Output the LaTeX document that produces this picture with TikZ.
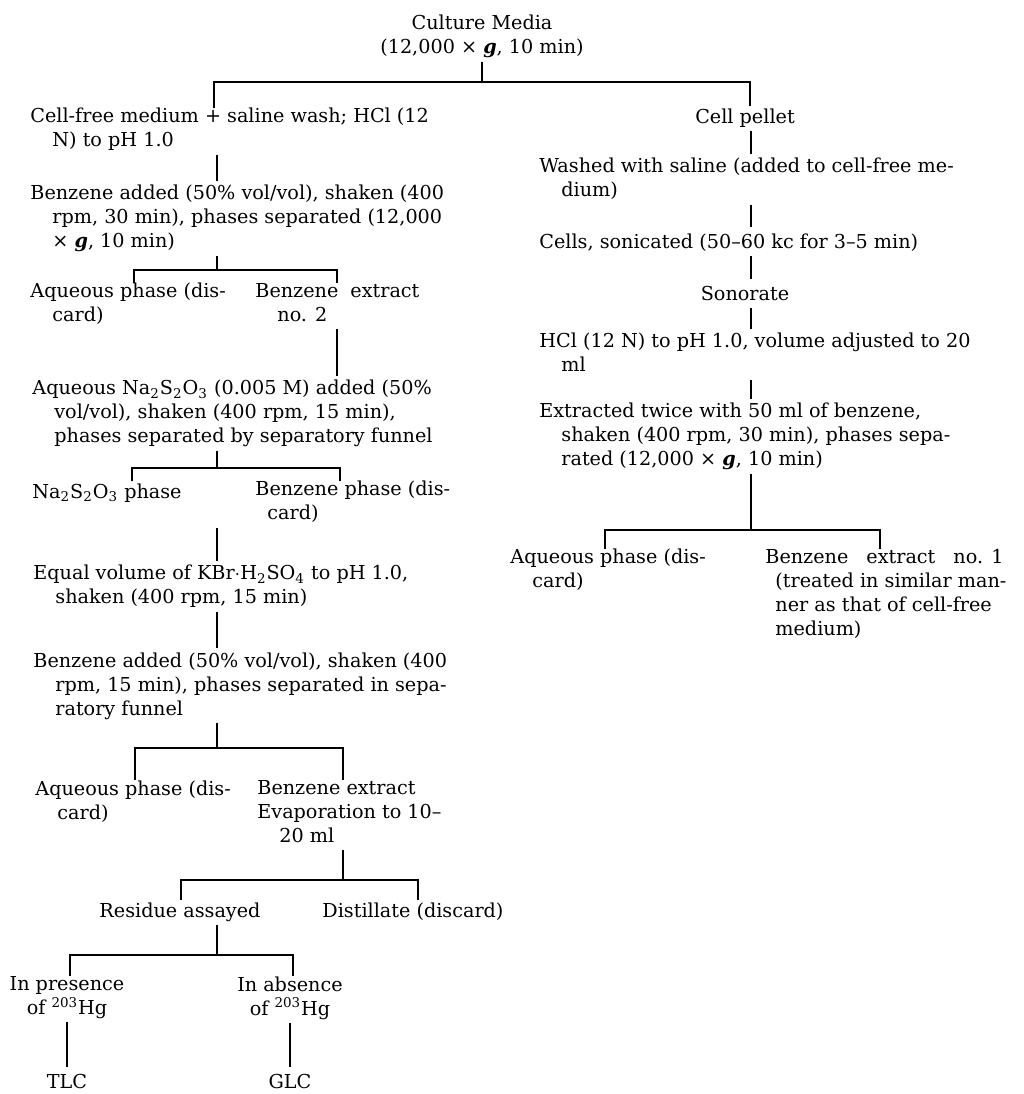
\documentclass[tikz,border=0pt]{standalone}
\usepackage{fontspec}
\setmainfont{DejaVu Serif}
\usetikzlibrary{positioning}
\newcommand{\ind}{\hspace*{11pt}}
\newcommand{\grav}{\textbf{\textit{g}}}
\tikzset{
  stepbox/.style = {anchor=north west, align=left, inner sep=0pt,
                    font=\fontsize{9.6}{12}\selectfont,
                    execute at begin node=\strut},
  midbox/.style  = {stepbox, anchor=north, align=center},
  tree/.style    = {line width=0.6pt},
  link/.style    = {tree, shorten >=2pt},
}
\begin{document}
\begin{tikzpicture}[x=0.5pt, y=-0.5pt]
\useasboundingbox (0,0) rectangle (1024,1094);

%% --- top -----------------------------------------------------------------
\node[midbox] (media) at (482,15) {Culture Media\\(12,000 × \grav, 10 min)};

%% --- column positions and fork bars ---------------------------------------
\coordinate (colL) at (217,0);
\coordinate (colR) at (751,0);
\coordinate (f0l) at (214,82);  \coordinate (f0r) at (750,82);
\coordinate (f1l) at (134,270); \coordinate (f1r) at (337,270);
\coordinate (f2l) at (132,468); \coordinate (f2r) at (340,468);
\coordinate (f3l) at (135,748); \coordinate (f3r) at (343,748);
\coordinate (f4l) at (181,880); \coordinate (f4r) at (418,880);
\coordinate (f5l) at (70,955);  \coordinate (f5r) at (293,955);
\coordinate (f6l) at (605,530); \coordinate (f6r) at (880,530);

%% =====================================================================
%% Cell-free medium branch
%% =====================================================================
\node[stepbox] (cellfree) at (30,108)
  {Cell-free medium + saline wash; HCl (12\\\ind N) to pH 1.0};
\node[stepbox] (benzA) at (30,185)
  {Benzene added (50\% vol/vol), shaken (400\\\ind rpm, 30 min), phases separated (12,000\\\ind × \grav, 10 min)};
\node[stepbox] (aqA) at (30,283)
  {Aqueous phase (dis-\\\ind card)};
\node[stepbox] (bzxB) at (255,283)
  {Benzene\hspace{6pt}extract\\\ind no. 2};
\node[stepbox] (naA) at (32,380)
  {Aqueous Na\textsubscript{2}S\textsubscript{2}O\textsubscript{3} (0.005 M) added (50\%\\\ind vol/vol), shaken (400 rpm, 15 min),\\\ind phases separated by separatory funnel};
\node[stepbox] (naB) at (32,481)
  {Na\textsubscript{2}S\textsubscript{2}O\textsubscript{3} phase};
\node[stepbox] (bzph) at (255,481)
  {Benzene phase (dis-\\\hspace*{6pt}card)};
\node[stepbox] (equal) at (33,565)
  {Equal volume of KBr$\cdot$H\textsubscript{2}SO\textsubscript{4} to pH 1.0,\\\ind shaken (400 rpm, 15 min)};
\node[stepbox] (benzB) at (33,652)
  {Benzene added (50\% vol/vol), shaken (400\\\ind rpm, 15 min), phases separated in sepa-\\\ind ratory funnel};
\node[stepbox] (aqC) at (35,780)
  {Aqueous phase (dis-\\\ind card)};
\node[stepbox] (bzxC) at (257,780)
  {Benzene extract\\Evaporation to 10--\\\ind 20 ml};
\node[midbox] (resid) at (180,900) {Residue assayed};
\node[stepbox] (distil) at (322,900) {Distillate (discard)};
\node[midbox] (pres) at (67,976) {In presence\\of \textsuperscript{203}Hg};
\node[midbox] (absn) at (290,976) {In absence\\of \textsuperscript{203}Hg};
\node[midbox] (tlc) at (67,1071) {TLC};
\node[midbox] (glc) at (290,1071) {GLC};

%% =====================================================================
%% Cell pellet branch
%% =====================================================================
\node[midbox] (pellet) at (745,106) {Cell pellet};
\node[stepbox] (wash) at (539,158)
  {Washed with saline (added to cell-free me-\\\ind dium)};
\node[stepbox] (cells) at (539,231)
  {Cells, sonicated (50--60 kc for 3--5 min)};
\node[midbox] (sonor) at (745,283) {Sonorate};
\node[stepbox] (hcl) at (539,333)
  {HCl (12 N) to pH 1.0, volume adjusted to 20\\\ind ml};
\node[stepbox] (extr) at (539,403)
  {Extracted twice with 50 ml of benzene,\\\ind shaken (400 rpm, 30 min), phases sepa-\\\ind rated (12,000 × \grav, 10 min)};
\node[stepbox] (aqR) at (510,549)
  {Aqueous phase (dis-\\\ind card)};
\node[stepbox] (bzx1) at (765,549)
  {Benzene\hspace{9pt}extract\hspace{9pt}no. 1\\\hspace*{5pt}(treated in similar man-\\\hspace*{5pt}ner as that of cell-free\\\hspace*{5pt}medium)};

%% --- forks ----------------------------------------------------------------
\draw[tree] (media.south) -- (media.south |- f0l);
\draw[tree] (cellfree.north -| f0l) -- (f0l) -- (f0r) -- (pellet.north -| f0r);
\draw[tree] (benzA.south -| colL) -- (colL |- f1l);
\draw[tree] (aqA.north -| f1l) -- (f1l) -- (f1r) -- (bzxB.north -| f1r);
\draw[tree] (naA.south -| colL) -- (colL |- f2l);
\draw[tree] (naB.north -| f2l) -- (f2l) -- (f2r) -- (bzph.north -| f2r);
\draw[tree] (benzB.south -| colL) -- (colL |- f3l);
\draw[tree] (aqC.north -| f3l) -- (f3l) -- (f3r) -- (bzxC.north -| f3r);
\draw[tree] (bzxC.south -| f3r) -- (f3r |- f4l);
\draw[tree] (resid.north -| f4l) -- (f4l) -- (f4r) -- (distil.north -| f4r);
\draw[tree] (resid.south -| colL) -- (colL |- f5l);
\draw[tree] (pres.north -| f5l) -- (f5l) -- (f5r) -- (absn.north -| f5r);
\draw[tree] (extr.south -| colR) -- (colR |- f6l);
\draw[tree] (aqR.north -| f6l) -- (f6l) -- (f6r) -- (bzx1.north -| f6r);

%% --- straight links ---------------------------------------------------------
\draw[link] (cellfree.south -| colL) -- (benzA.north -| colL);
\draw[link] (bzxB.south -| f1r) -- (naA.north -| f1r);
\draw[link] (bzph.south -| colL) -- (equal.north -| colL);
\draw[link] (equal.south -| colL) -- (benzB.north -| colL);
\draw[link] (pres) -- (tlc);
\draw[link] (absn) -- (glc);
\draw[link] (pellet.south -| colR) -- (wash.north -| colR);
\draw[link] (wash.south -| colR) -- (cells.north -| colR);
\draw[link] (cells.south -| colR) -- (sonor.north -| colR);
\draw[link] (sonor.south -| colR) -- (hcl.north -| colR);
\draw[link] (hcl.south -| colR) -- (extr.north -| colR);

\end{tikzpicture}
\end{document}
